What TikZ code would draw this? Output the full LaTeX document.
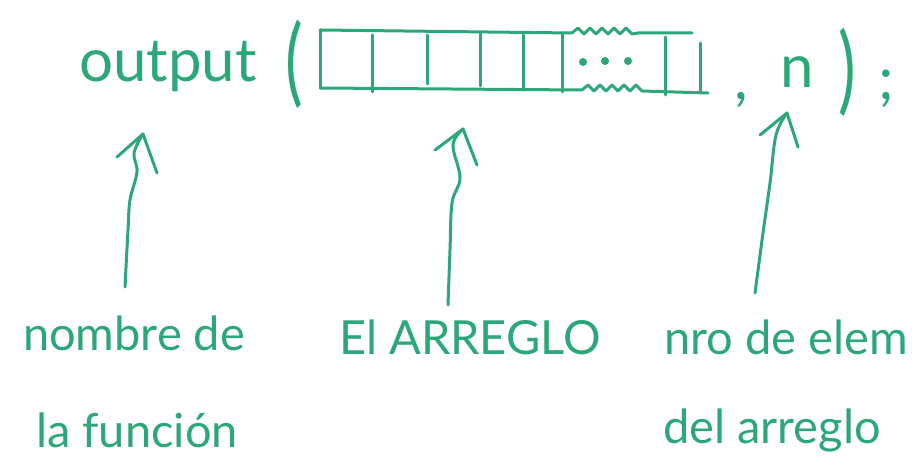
\documentclass[tikz,border=0pt]{standalone}
\usepackage{fontspec}
\setmainfont{Lato}
\definecolor{ink}{RGB}{44,168,120}
\begin{document}
\begin{tikzpicture}[x=1pt,y=-1pt, line cap=round, line join=round,
  inkline/.style={draw=ink, line width=3pt},
  lbl/.style={text=ink, font=\fontsize{47}{50}\selectfont, anchor=base, inner sep=0pt},
  big/.style={text=ink, font=\fontsize{60}{64}\selectfont, anchor=base, inner sep=0pt},
  paren/.style={text=ink, font=\fontsize{60}{64}\selectfont, inner sep=0pt},
  ptr/.style={draw=ink, line width=3pt}]
\fill[white] (0,0) rectangle (921,470);
\useasboundingbox (0,0) rectangle (921,470);

% code line
\node[big] (fn) at (168,82) {output};
\node[paren] (lp) at (294,64) {\scalebox{1.1}[1.6]{(}};
\node[big] (comma) at (741,100) {,};
\node[big] (n) at (797,88) {n};
\node[paren] (rp) at (847,72) {\scalebox{1.1}[1.6]{)}};
\node[big] (semi) at (886,100) {;};

% array
\draw[inkline] (320,30) -- (572,33) -- (578,28) -- (584,34) -- (590,28) -- (596,34) -- (602,28) -- (608,34) -- (614,28) -- (620,34) -- (626,28) -- (632,34) -- (638,33) -- (692,33);
\draw[inkline] (320,88) -- (582,90) -- (588,85) -- (594,91) -- (600,85) -- (606,91) -- (612,85) -- (618,91) -- (624,85) -- (630,91) -- (636,85) -- (642,91) -- (708,93);
\draw[inkline] (320,30) -- (320,88);
\draw[inkline] (372,35) -- (372,92);
\draw[inkline] (427,35) -- (427,84);
\draw[inkline] (480,33) -- (480,86);
\draw[inkline] (523,35) -- (523,90);
\draw[inkline] (562,33) -- (562,92);
\draw[inkline] (665,37) -- (665,95);
\draw[inkline] (700,43) -- (700,92);
\fill[ink] (583,62) circle (4) (605,61) circle (4) (628,61) circle (4);
\coordinate (arr) at (463,129);

% labels
\node[lbl] (l1a) at (134,350) {nombre de};
\node[lbl] (l1b) at (137,447) {la función};
\node[lbl] (l2) at (470,355) {El ARREGLO};
\node[lbl] (l3a) at (786,355) {nro de elem};
\node[lbl] (l3b) at (772,443) {del arreglo};

% pointers
\coordinate (s1) at (125,287);
\coordinate (t1) at (143,134);
\coordinate (s2) at (448,305);
\coordinate (s3) at (755,293);
\coordinate (t3) at (787,113);
\draw[ptr] plot[smooth, tension=0.6] coordinates {(s1) (128,230) (130,200) (137,172) (134,153) (t1)};
\draw[ptr] (t1) ++(-26,23) -- (t1) -- ++(14,39);
\draw[ptr] plot[smooth, tension=0.6] coordinates {(s2) (450,250) (452,203) (460,178) (453,145) (arr)};
\draw[ptr] (arr) ++(-28,21) -- (arr) -- ++(14,36);
\draw[ptr] plot[smooth, tension=0.6] coordinates {(s3) (763,233) (770,183) (776,135) (t3)};
\draw[ptr] (t3) ++(-27,22) -- (t3) -- ++(11,34);
\end{tikzpicture}
\end{document}
